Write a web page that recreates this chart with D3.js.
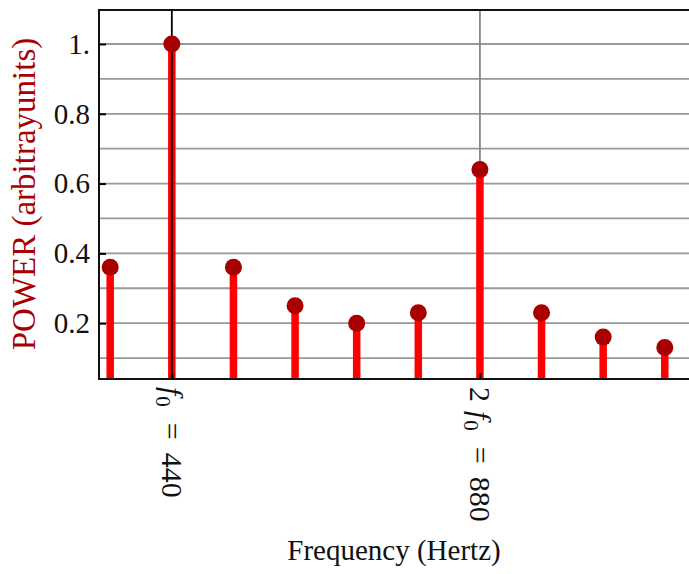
<!DOCTYPE html>
<html>
<head>
<meta charset="utf-8">
<script src="https://cdn.jsdelivr.net/npm/d3@7/dist/d3.min.js"></script>
<style>
  html, body { margin: 0; padding: 0; background: #fff; }
  svg { display: block; }
  svg text { font-family: "Liberation Serif", "Times New Roman", "DejaVu Serif", serif; }
</style>
</head>
<body>
<svg id="chart" width="689" height="574"></svg>
<script>
// Harmonic spectrum: frequency of each component (Hz) and its relative power
const frequencies = [352, 440, 528, 616, 704, 792, 880, 968, 1056, 1144];
const power = [0.36, 1.0, 0.36, 0.25, 0.20, 0.23, 0.64, 0.23, 0.16, 0.13];

// Y ticks and grid levels
const yTickValues = [0.2, 0.4, 0.6, 0.8, 1.0];
const yGridValues = [0.1, 0.2, 0.3, 0.4, 0.5, 0.6, 0.7, 0.8, 0.9, 1.0];

// Marked frequencies on the x axis: multiplier and value
const xMarks = [
  { mult: "2", value: 880 },
  { mult: "", value: 440 }
];

const svg = d3.select("#chart");
const plot = { left: 99, right: 690, top: 10, bottom: 379 };

const x = d3.scaleLinear().domain([336, 1180]).range([plot.left, plot.right]);
const y = d3.scaleLinear().domain([0.04, 1.0974]).range([plot.bottom, plot.top]);

// horizontal grid
svg.append("g")
  .selectAll("line")
  .data(yGridValues)
  .join("line")
  .attr("x1", plot.left).attr("x2", plot.right)
  .attr("y1", d => y(d)).attr("y2", d => y(d))
  .attr("stroke", "#999")
  .attr("stroke-width", 1.8);

// vertical grid at 2 f0 (behind stems)
svg.append("line")
  .attr("x1", x(880)).attr("x2", x(880))
  .attr("y1", plot.top).attr("y2", plot.bottom)
  .attr("stroke", "#888")
  .attr("stroke-width", 1.8);

// stems
svg.append("g")
  .selectAll("line")
  .data(frequencies)
  .join("line")
  .attr("x1", d => x(d)).attr("x2", d => x(d))
  .attr("y1", plot.bottom)
  .attr("y2", (d, i) => y(power[i]))
  .attr("stroke", "#ff0000")
  .attr("stroke-width", 7.5);

// vertical line at f0 drawn over its stem
svg.append("line")
  .attr("x1", x(440)).attr("x2", x(440))
  .attr("y1", plot.top).attr("y2", plot.bottom)
  .attr("stroke", "#000")
  .attr("stroke-width", 1.8);

// dots
svg.append("g")
  .selectAll("circle")
  .data(frequencies)
  .join("circle")
  .attr("cx", d => x(d))
  .attr("cy", (d, i) => y(power[i]))
  .attr("r", 8.5)
  .attr("fill", "#a80000");

// frame: top, left, bottom
svg.append("path")
  .attr("d", `M${plot.right},${plot.top}H${plot.left}V${plot.bottom}H${plot.right}`)
  .attr("fill", "none")
  .attr("stroke", "#111")
  .attr("stroke-width", 2);

// y axis
const yAxis = d3.axisLeft(y)
  .tickValues(yTickValues)
  .tickSizeInner(-7)
  .tickSizeOuter(0)
  .tickPadding(9)
  .tickFormat(d => d === 1 ? "1." : d3.format(".1f")(d));

const gy = svg.append("g")
  .attr("transform", `translate(${plot.left},0)`)
  .call(yAxis)
  .attr("font-family", null);
gy.select(".domain").remove();
gy.selectAll(".tick line").attr("stroke", "#000").attr("stroke-width", 2);
gy.selectAll(".tick text")
  .attr("font-size", 29)
  .attr("fill", "#111");

// x axis ticks with rotated labels
const xAxis = d3.axisBottom(x)
  .tickValues(xMarks.map(d => d.value))
  .tickSizeInner(-6)
  .tickSizeOuter(0)
  .tickFormat("");
const gx = svg.append("g")
  .attr("transform", `translate(0,${plot.bottom})`)
  .call(xAxis);
gx.select(".domain").remove();
gx.selectAll(".tick line").attr("stroke", "#000").attr("stroke-width", 2);

const labels = svg.append("g")
  .selectAll("text")
  .data(xMarks)
  .join("text")
  .attr("transform", d => `translate(${x(d.value)},${plot.bottom + 8}) rotate(90)`)
  .attr("dy", "0.32em")
  .attr("font-size", 30)
  .attr("fill", "#111");
labels.append("tspan").text(d => d.mult);
labels.append("tspan")
  .attr("dx", d => d.mult ? 9 : 0)
  .attr("font-style", "italic").text("f");
labels.append("tspan").attr("font-size", 21).attr("dx", 1).attr("dy", 6).text("0");
labels.append("tspan").attr("dx", 16).attr("dy", -6).text("=");
labels.append("tspan").attr("dx", 13).text(d => d.value);

// axis titles
svg.append("text")
  .attr("x", 394).attr("y", 560)
  .attr("text-anchor", "middle")
  .attr("font-size", 29)
  .attr("fill", "#111")
  .text("Frequency (Hertz)");

svg.append("text")
  .attr("transform", "translate(35,194) rotate(-90)")
  .attr("text-anchor", "middle")
  .attr("font-size", 33)
  .attr("fill", "#a80000")
  .text("POWER (arbitrayunits)");
</script>
</body>
</html>
